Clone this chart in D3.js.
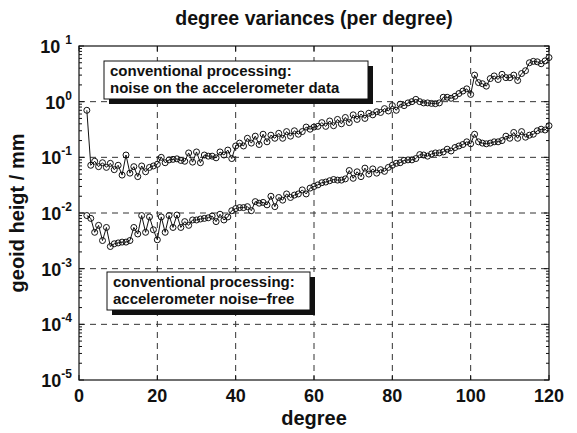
<html>
<head>
<meta charset="utf-8">
<script src="https://d3js.org/d3.v7.min.js"></script>
<style>
  body { margin: 0; background: #fff; }
  text { font-family: "Liberation Sans", Arial, sans-serif; font-weight: bold; fill: #111; }
</style>
</head>
<body>
<svg id="chart" width="577" height="433"></svg>
<script>
// degrees 2..120
var degrees = d3.range(2, 121);

// conventional processing: noise on the accelerometer data
var noisy = [
  0.70, 0.072, 0.085, 0.068, 0.080, 0.066, 0.078, 0.060, 0.072, 0.048,
  0.110, 0.052, 0.068, 0.045, 0.070, 0.055, 0.066, 0.070, 0.075, 0.100,
  0.080, 0.090, 0.092, 0.094, 0.088, 0.085, 0.120, 0.082, 0.125, 0.080,
  0.110, 0.105, 0.105, 0.098, 0.125, 0.110, 0.135, 0.095, 0.160, 0.180,
  0.160, 0.220, 0.180, 0.240, 0.170, 0.260, 0.190, 0.250, 0.220, 0.270,
  0.220, 0.290, 0.240, 0.300, 0.260, 0.290, 0.350, 0.320, 0.350, 0.360,
  0.420, 0.360, 0.450, 0.370, 0.480, 0.400, 0.520, 0.420, 0.580, 0.480,
  0.600, 0.500, 0.620, 0.580, 0.660, 0.640, 0.750, 0.680, 0.850, 0.700,
  0.900, 0.850, 0.950, 1.000, 1.100, 1.000, 0.950, 0.950, 0.930, 0.920,
  0.950, 1.200, 1.200, 1.150, 1.250, 1.400, 1.550, 1.700, 1.350, 3.000,
  2.200, 2.100, 1.900, 2.600, 2.900, 2.500, 3.100, 2.700, 2.700, 3.000,
  2.400, 3.200, 3.600, 5.000, 5.300, 5.200, 4.800, 5.400, 6.200
];

// conventional processing: accelerometer noise-free
var noiseFree = [
  0.0090, 0.0080, 0.0045, 0.0060, 0.0032, 0.0055, 0.0025, 0.0028, 0.0029, 0.0030,
  0.0030, 0.0032, 0.0055, 0.0042, 0.0090, 0.0045, 0.0085, 0.0050, 0.0033, 0.0085,
  0.0045, 0.0090, 0.0055, 0.0092, 0.0055, 0.0070, 0.0060, 0.0075, 0.0075, 0.0078,
  0.0080, 0.0082, 0.0088, 0.0070, 0.0095, 0.0075, 0.0085, 0.0110, 0.0120, 0.0125,
  0.0125, 0.0130, 0.0110, 0.0160, 0.0150, 0.0155, 0.0140, 0.0200, 0.0130, 0.0190,
  0.0170, 0.0220, 0.0190, 0.0210, 0.0220, 0.0260, 0.0220, 0.0280, 0.0300, 0.0320,
  0.0350, 0.0360, 0.0380, 0.0400, 0.0390, 0.0390, 0.0410, 0.0580, 0.0420, 0.0550,
  0.0450, 0.0640, 0.0500, 0.0620, 0.0520, 0.0600, 0.0560, 0.0660, 0.0720, 0.0780,
  0.0800, 0.0880, 0.0900, 0.0900, 0.0950, 0.1120, 0.1100, 0.1050, 0.1150, 0.1200,
  0.1200, 0.1250, 0.1400, 0.1300, 0.1500, 0.1600, 0.1700, 0.1900, 0.1750, 0.2600,
  0.1900, 0.1800, 0.1750, 0.1800, 0.1900, 0.1900, 0.2000, 0.2400, 0.2200, 0.2800,
  0.2200, 0.2900, 0.2300, 0.2500, 0.2600, 0.3000, 0.3200, 0.3100, 0.3700
];

var xTicks = [0, 20, 40, 60, 80, 100, 120];
var yExponents = [-5, -4, -3, -2, -1, 0, 1];

var svg = d3.select("#chart");
var pLeft = 79, pRight = 549, pTop = 46, pBottom = 380;

var x = d3.scaleLinear().domain([0, 120]).range([pLeft, pRight]);
var y = d3.scaleLog().domain([1e-5, 10]).range([pBottom, pTop]);

// grid
var grid = svg.append("g").attr("stroke", "#333").attr("stroke-width", 1)
  .attr("stroke-dasharray", "6,5");
xTicks.slice(1, -1).forEach(function(t) {
  grid.append("line").attr("x1", x(t)).attr("x2", x(t)).attr("y1", pTop).attr("y2", pBottom);
});
yExponents.slice(1, -1).forEach(function(e) {
  grid.append("line").attr("x1", pLeft).attr("x2", pRight).attr("y1", y(Math.pow(10, e))).attr("y2", y(Math.pow(10, e)));
});

// ticks
var ticks = svg.append("g").attr("stroke", "#111").attr("stroke-width", 1);
xTicks.forEach(function(t) {
  ticks.append("line").attr("x1", x(t)).attr("x2", x(t)).attr("y1", pBottom).attr("y2", pBottom - 5);
  ticks.append("line").attr("x1", x(t)).attr("x2", x(t)).attr("y1", pTop).attr("y2", pTop + 5);
});
yExponents.forEach(function(e) {
  var base = Math.pow(10, e);
  ticks.append("line").attr("x1", pLeft).attr("x2", pLeft + 5).attr("y1", y(base)).attr("y2", y(base));
  ticks.append("line").attr("x1", pRight).attr("x2", pRight - 5).attr("y1", y(base)).attr("y2", y(base));
  if (e < 1) {
    for (var m = 2; m < 10; m++) {
      var yy = y(base * m);
      ticks.append("line").attr("x1", pLeft).attr("x2", pLeft + 3).attr("y1", yy).attr("y2", yy);
      ticks.append("line").attr("x1", pRight).attr("x2", pRight - 3).attr("y1", yy).attr("y2", yy);
    }
  }
});

// frame
svg.append("rect").attr("x", pLeft).attr("y", pTop).attr("width", pRight - pLeft).attr("height", pBottom - pTop)
  .attr("fill", "none").attr("stroke", "#111").attr("stroke-width", 1.2);

// series
var line = d3.line().x(function(d) { return x(d[0]); }).y(function(d) { return y(d[1]); });
[noisy, noiseFree].forEach(function(vals) {
  var pts = degrees.map(function(d, i) { return [d, vals[i]]; });
  svg.append("path").attr("d", line(pts)).attr("fill", "none").attr("stroke", "#111").attr("stroke-width", 1);
  svg.append("g").selectAll("circle").data(pts).enter().append("circle")
    .attr("cx", function(d) { return x(d[0]); })
    .attr("cy", function(d) { return y(d[1]); })
    .attr("r", 3)
    .attr("fill", "none").attr("stroke", "#111").attr("stroke-width", 1);
});

// x tick labels
xTicks.forEach(function(t) {
  svg.append("text").attr("x", x(t)).attr("y", 402).attr("text-anchor", "middle")
    .attr("font-size", 18).text(t);
});

// y tick labels
yExponents.forEach(function(e) {
  var t = svg.append("text").attr("x", 72).attr("y", y(Math.pow(10, e)) + 7)
    .attr("text-anchor", "end").attr("font-size", 18);
  t.append("tspan").text(e === 1 ? "10 " : "10");
  t.append("tspan").attr("font-size", 12).attr("dy", -9).text(e);
});

// titles
svg.append("text").attr("x", 314).attr("y", 25).attr("text-anchor", "middle")
  .attr("font-size", 19.5).text("degree variances (per degree)");
svg.append("text").attr("x", 314).attr("y", 425).attr("text-anchor", "middle")
  .attr("font-size", 20).text("degree");
svg.append("text").attr("transform", "translate(24," + ((pTop + pBottom) / 2) + ") rotate(-90)")
  .attr("text-anchor", "middle").attr("font-size", 20).text("geoid heigt / mm");

// annotation boxes
function note(bx, by, bw, bh, lines) {
  svg.append("rect").attr("x", bx + 5).attr("y", by + 5).attr("width", bw).attr("height", bh).attr("fill", "#111");
  svg.append("rect").attr("x", bx).attr("y", by).attr("width", bw).attr("height", bh)
    .attr("fill", "#fff").attr("stroke", "#111").attr("stroke-width", 1);
  lines.forEach(function(s, i) {
    svg.append("text").attr("x", bx + 6).attr("y", by + 15 + i * 17).attr("font-size", 15).text(s);
  });
}
note(104, 61, 264, 38, ["conventional processing:", "noise on the accelerometer data"]);
note(107, 272, 203, 38, ["conventional processing:", "accelerometer noise\u2212free"]);
</script>
</body>
</html>
